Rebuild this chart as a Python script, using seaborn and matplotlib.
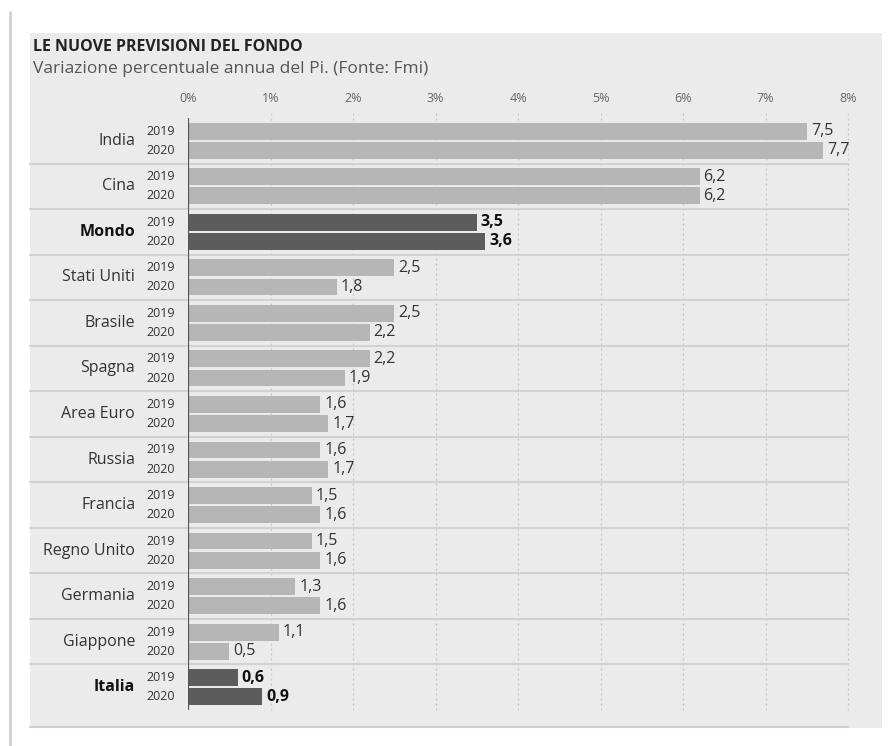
import matplotlib
matplotlib.use("Agg")
import matplotlib.pyplot as plt
import matplotlib.transforms as mtransforms
from matplotlib.patches import Rectangle
import pandas as pd
import seaborn as sns

paesi = ["India", "Cina", "Mondo", "Stati Uniti", "Brasile", "Spagna", "Area Euro",
         "Russia", "Francia", "Regno Unito", "Germania", "Giappone", "Italia"]
v2019 = [7.5, 6.2, 3.5, 2.5, 2.5, 2.2, 1.6, 1.6, 1.5, 1.5, 1.3, 1.1, 0.6]
v2020 = [7.7, 6.2, 3.6, 1.8, 2.2, 1.9, 1.7, 1.7, 1.6, 1.6, 1.6, 0.5, 0.9]
anni = ["2019", "2020"]
tick_pct = [0, 1, 2, 3, 4, 5, 6, 7, 8]
evidenza = ["Mondo", "Italia"]

df = pd.DataFrame({
    "paese": paesi * 2,
    "anno": [anni[0]] * len(paesi) + [anni[1]] * len(paesi),
    "valore": v2019 + v2020,
})

sns.set_style("white")
plt.rcParams["font.family"] = ["Open Sans", "DejaVu Sans"]

W, H = 890, 746
fig = plt.figure(figsize=(W / 100, H / 100), dpi=100)
fig.patch.set_facecolor("white")

# grey panel
fig.patches.append(Rectangle((30 / W, 1 - 728 / H), (882 - 30) / W, (728 - 33) / H,
                             transform=fig.transFigure, facecolor="#ebebeb",
                             edgecolor="none", zorder=-2))
fig.add_artist(plt.Line2D([30 / W, 848 / W], [1 - 727 / H] * 2, transform=fig.transFigure,
                          color="#cfcfcf", lw=1.5))
fig.add_artist(plt.Line2D([10 / W] * 2, [0, 1 - 12 / H], transform=fig.transFigure,
                          color="#d0d0d0", lw=2))

ax = fig.add_axes([188 / W, 1 - 710 / H, 660 / W, 592 / H])
ax.set_facecolor("none")

light, dark = "#b6b6b6", "#5c5c5c"
sns.barplot(data=df, x="valore", y="paese", hue="anno", order=paesi, hue_order=anni,
            palette=[light, light], width=0.84, orient="h", legend=False, ax=ax,
            saturation=1, linewidth=0)

for p in ax.patches:
    h = p.get_height()
    if h <= 0:
        continue
    c = p.get_y() + h / 2
    p.set_height(0.37)
    p.set_y(c - 0.185)
    idx = int(round(c))
    if paesi[idx] in evidenza:
        p.set_facecolor(dark)

ax.set_xlim(0, 8)
ax.set_ylim(len(paesi) - 0.5, -0.5)
ax.xaxis.tick_top()
ax.set_xticks(tick_pct)
ax.set_xticklabels([f"{t}%" for t in tick_pct], fontsize=9, color="#666666")
ax.tick_params(axis="x", length=0, pad=9)
ax.set_yticks([])
ax.set_xlabel("")
ax.set_ylabel("")
for s in ax.spines.values():
    s.set_visible(False)

for t in tick_pct[1:]:
    ax.plot([t, t], [len(paesi) - 0.5, -0.65], color="#c4c4c4", lw=0.9,
            ls=(0, (1.5, 2.5)), zorder=0, clip_on=False)
ax.axvline(0, color="#555555", lw=1.6, zorder=3)

trans = mtransforms.blended_transform_factory(ax.transAxes, ax.transData)
for i in range(len(paesi) - 1):
    ax.plot([-0.239, 1], [i + 0.5, i + 0.5], transform=trans, color="#d2d2d2",
            lw=1.5, zorder=0, clip_on=False)

off = 0.21
for i, paese in enumerate(paesi):
    bold = paese in evidenza
    ax.text(-0.08, i, paese, transform=trans, ha="right", va="center", fontsize=11.5,
            color="#111111" if bold else "#333333", fontweight="bold" if bold else "normal")
    for k, (v, anno) in enumerate([(v2019[i], anni[0]), (v2020[i], anni[1])]):
        y = i - off if k == 0 else i + off
        ax.text(-0.042, y, anno, transform=trans, ha="center", va="center",
                fontsize=9, color="#333333")
        ax.text(v + 0.05, y, f"{v:.1f}".replace(".", ","), ha="left", va="center",
                fontsize=11.5, color="#111111" if bold else "#333333",
                fontweight="bold" if bold else "normal")

fig.text(33 / W, 1 - 47 / H, "LE NUOVE PREVISIONI DEL FONDO", fontsize=11.5,
         fontweight="bold", color="#222222", va="center")
fig.text(33 / W, 1 - 69 / H, "Variazione percentuale annua del Pi. (Fonte: Fmi)",
         fontsize=12.5, color="#555555", va="center")

fig.savefig("out.png", dpi=100, facecolor="white")
